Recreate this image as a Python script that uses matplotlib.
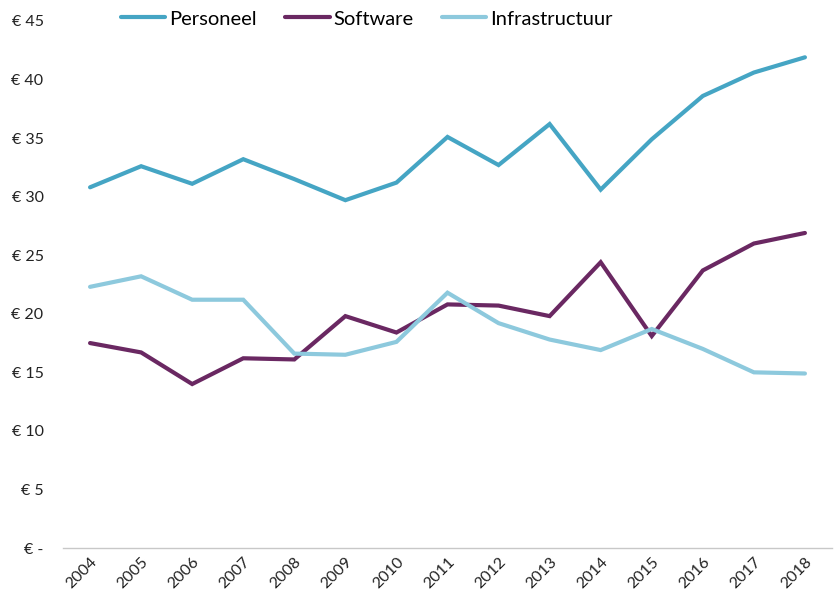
import matplotlib
matplotlib.use("Agg")
import matplotlib.pyplot as plt
from matplotlib.ticker import FuncFormatter

plt.rcParams['font.family'] = ['Lato', 'DejaVu Sans']

years = [str(y) for y in range(2004, 2019)]
personeel = [30.8, 32.6, 31.1, 33.2, 31.5, 29.7, 31.2, 35.1, 32.7, 36.2,
             30.6, 34.9, 38.6, 40.6, 41.9]
software = [17.5, 16.7, 14.0, 16.2, 16.1, 19.8, 18.4, 20.8, 20.7, 19.8,
            24.4, 18.1, 23.7, 26.0, 26.9]
infrastructuur = [22.3, 23.2, 21.2, 21.2, 16.6, 16.5, 17.6, 21.8, 19.2, 17.8,
                  16.9, 18.7, 17.0, 15.0, 14.9]

series = [
    ("Personeel", personeel, "#45A5C4"),
    ("Software", software, "#6A2862"),
    ("Infrastructuur", infrastructuur, "#8DC9DD"),
]

fig = plt.figure(figsize=(8.38, 5.95), dpi=100)
ax = fig.add_axes([63 / 838, 1 - 548 / 595, (832 - 63) / 838, (548 - 21) / 595])

x = range(len(years))
for name, vals, col in series:
    ax.plot(x, vals, color=col, lw=3.0, label=name, solid_capstyle="round",
            solid_joinstyle="miter")

ax.set_xlim(-0.53, len(years) - 0.47)
ax.set_ylim(0, 45)
ax.set_yticks(range(0, 46, 5))
ax.yaxis.set_major_formatter(FuncFormatter(lambda v, p: "€ -" if v == 0 else f"€ {int(v)}"))
ax.set_xticks(list(x))
ax.set_xticklabels(years, rotation=45, ha="right", rotation_mode="anchor")

for s in ["top", "right", "left"]:
    ax.spines[s].set_visible(False)
ax.spines["bottom"].set_color("#C8C8C8")
ax.spines["bottom"].set_linewidth(1.0)
ax.tick_params(axis="both", length=0, labelsize=11.5, colors="#222222")
ax.tick_params(axis="y", pad=14)
ax.tick_params(axis="x", pad=5)

fig.legend(loc="center", bbox_to_anchor=(367 / 838, 1 - 19 / 595), ncol=3,
           frameon=False, fontsize=14.5, handlelength=2.2, handletextpad=0.2,
           columnspacing=1.4)

fig.savefig("out.png", dpi=100)
